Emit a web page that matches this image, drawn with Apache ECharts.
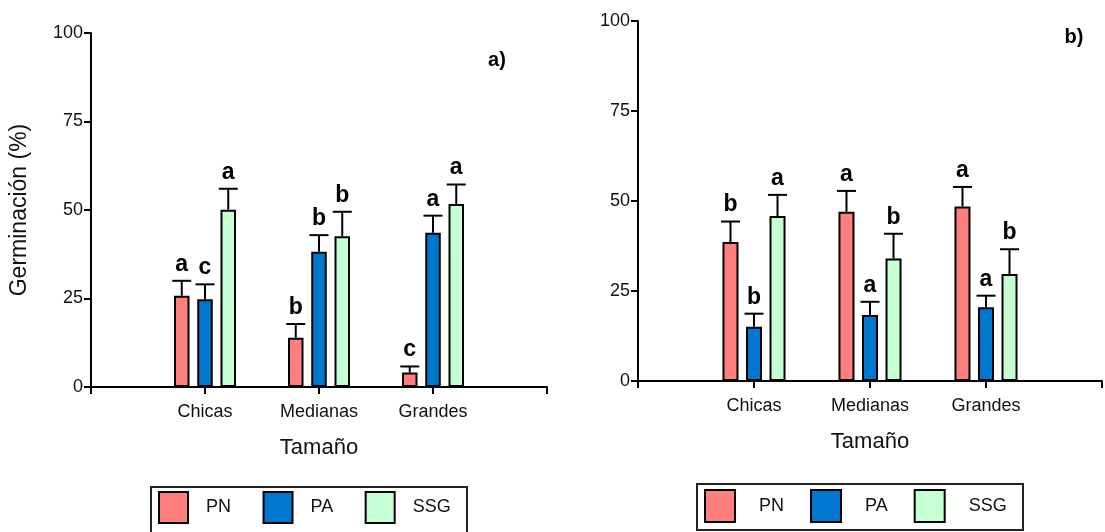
<!DOCTYPE html>
<html>
<head>
<meta charset="utf-8">
<script src="https://cdn.jsdelivr.net/npm/echarts@6/dist/echarts.min.js"></script>
<style>
html,body{margin:0;padding:0;background:#fff;}
#chart{width:1105px;height:532px;}
</style>
</head>
<body>
<div id="chart"></div>
<script>
// ---------- data ----------
const categories = ['Chicas', 'Medianas', 'Grandes'];
const seriesNames = ['PN', 'PA', 'SSG'];
const yTicks = [0, 25, 50, 75, 100];

// Panel a)
const aPN = [25.8, 13.9, 4.1];
const aPNerr = [4.2, 3.9, 1.7];
const aPNletters = ['a', 'b', 'c'];
const aPA = [24.8, 38.2, 43.6];
const aPAerr = [4.2, 4.7, 4.8];
const aPAletters = ['c', 'b', 'a'];
const aSSG = [50.1, 42.6, 51.7];
const aSSGerr = [5.9, 6.9, 5.5];
const aSSGletters = ['a', 'b', 'a'];

// Panel b)
const bPN = [38.6, 47.0, 48.5];
const bPNerr = [5.7, 5.8, 5.4];
const bPNletters = ['b', 'a', 'a'];
const bPA = [15.1, 18.3, 20.5];
const bPAerr = [3.6, 3.7, 3.2];
const bPAletters = ['b', 'a', 'a'];
const bSSG = [45.8, 34.0, 29.7];
const bSSGerr = [5.9, 6.9, 6.9];
const bSSGletters = ['a', 'b', 'b'];

const yAxisTitle = 'Germinación (%)';
const xAxisTitle = 'Tamaño';

// ---------- style ----------
const FONT = "'Liberation Sans', Arial, sans-serif";
const colors = ['#FF7F7F', '#0078D0', '#C6FFD2'];
const axisData = [''].concat(categories, ['']);

function padData(arr) { return [null].concat(arr, [null]); }

const panels = [
  { means: [aPN, aPA, aSSG], errs: [aPNerr, aPAerr, aSSGerr], letters: [aPNletters, aPAletters, aSSGletters], barWidth: 15.5, gap: 0.5 },
  { means: [bPN, bPA, bSSG], errs: [bPNerr, bPAerr, bSSGerr], letters: [bPNletters, bPAletters, bSSGletters], barWidth: 16, gap: 0.47 }
];

const grids = [
  { left: 91, top: 33, width: 456, height: 354 },
  { left: 638, top: 21, width: 464, height: 360 }
];

const xAxes = grids.map((g, i) => ({
  type: 'category', gridIndex: i, data: axisData, boundaryGap: false,
  axisLine: { lineStyle: { color: '#000', width: 2 } },
  axisTick: { show: true, length: 7, lineStyle: { color: '#000', width: 2 }, alignWithLabel: true },
  axisLabel: { color: '#111', fontFamily: FONT, fontSize: 18, margin: 16, interval: 0 },
  name: xAxisTitle, nameLocation: 'middle', nameGap: 50,
  nameTextStyle: { color: '#111', fontFamily: FONT, fontSize: 22 }
}));

const yAxes = grids.map((g, i) => ({
  type: 'value', gridIndex: i, min: yTicks[0], max: yTicks[yTicks.length - 1],
  interval: yTicks[1] - yTicks[0],
  splitLine: { show: false },
  axisLine: { show: true, lineStyle: { color: '#000', width: 2 } },
  axisTick: { show: true, length: 7, lineStyle: { color: '#000', width: 2 } },
  axisLabel: { color: '#111', fontFamily: FONT, fontSize: 18, margin: 8 },
  name: i === 0 ? yAxisTitle : '', nameLocation: 'middle', nameGap: 60,
  nameTextStyle: { color: '#111', fontFamily: FONT, fontSize: 23 }
}));

const series = [];
panels.forEach((p, pi) => {
  seriesNames.forEach((nm, si) => {
    series.push({
      type: 'bar', name: nm, xAxisIndex: pi, yAxisIndex: pi,
      data: padData(p.means[si]),
      barWidth: p.barWidth, barGap: (p.gap * 100) + '%',
      itemStyle: { color: colors[si], borderColor: '#000', borderWidth: 2 },
      z: 2
    });
  });
  seriesNames.forEach((nm, si) => {
    const pitch = p.barWidth * (1 + p.gap);
    const offset = (si - 1) * pitch;
    const data = p.means[si].map((m, k) => [k + 1, m, m + p.errs[si][k]]);
    const letters = p.letters[si];
    series.push({
      type: 'custom', name: nm + ' error', xAxisIndex: pi, yAxisIndex: pi,
      data: data, z: 3, silent: true,
      renderItem: function (params, api) {
        const c = api.value(0);
        const top = api.coord([c, api.value(2)]);
        const base = api.coord([c, api.value(1)]);
        const x = top[0] + offset;
        const capHalf = 9.5;
        return {
          type: 'group',
          children: [
            { type: 'line', shape: { x1: x, y1: base[1], x2: x, y2: top[1] }, style: { stroke: '#000', lineWidth: 2 } },
            { type: 'line', shape: { x1: x - capHalf, y1: top[1], x2: x + capHalf, y2: top[1] }, style: { stroke: '#000', lineWidth: 2 } },
            { type: 'text', x: x, y: top[1] - 5, style: { text: letters[params.dataIndex], fill: '#000', font: 'bold 23px ' + FONT, textAlign: 'center', textVerticalAlign: 'bottom' } }
          ]
        };
      }
    });
  });
});

const legends = [
  { left: 153, top: 486, itemWidth: 29, itemHeight: 31, itemGap: 31.5, pad: 13 },
  { left: 699, top: 484, itemWidth: 30, itemHeight: 32, itemGap: 26, pad: 19 }
].map(l => ({
  data: seriesNames, orient: 'horizontal', left: l.left, top: l.top,
  itemWidth: l.itemWidth, itemHeight: l.itemHeight, itemGap: l.itemGap, icon: 'rect',
  selectedMode: false,
  textStyle: { color: '#111', fontFamily: FONT, fontSize: 18, padding: [0, 0, 0, l.pad] }
}));

const option = {
  backgroundColor: '#fff',
  animation: false,
  grid: grids,
  xAxis: xAxes,
  yAxis: yAxes,
  legend: legends,
  series: series,
  graphic: [
    { type: 'rect', shape: { x: 151, y: 487, width: 316, height: 52 }, style: { fill: 'none', stroke: '#222', lineWidth: 2 }, z: 0 },
    { type: 'rect', shape: { x: 697, y: 484, width: 326, height: 46 }, style: { fill: 'none', stroke: '#222', lineWidth: 2 }, z: 0 },
    { type: 'text', x: 497, y: 60, style: { text: 'a)', font: 'bold 20px ' + FONT, fill: '#000', textAlign: 'center', textVerticalAlign: 'middle' } },
    { type: 'text', x: 1074, y: 37, style: { text: 'b)', font: 'bold 20px ' + FONT, fill: '#000', textAlign: 'center', textVerticalAlign: 'middle' } }
  ]
};

const chart = echarts.init(document.getElementById('chart'), null, { renderer: 'canvas' });
chart.setOption(option);
</script>
</body>
</html>
